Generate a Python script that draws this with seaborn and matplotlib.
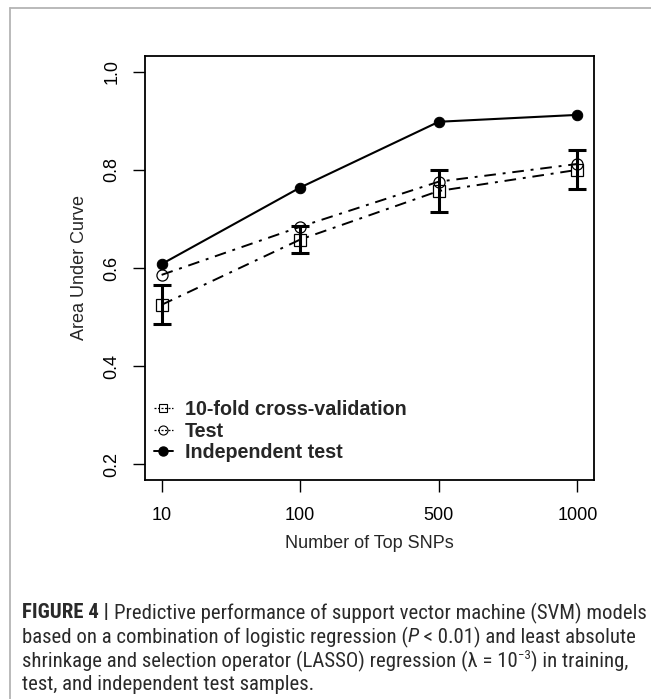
import numpy as np
import pandas as pd
import matplotlib
matplotlib.use("Agg")
import matplotlib.pyplot as plt
import seaborn as sns
from matplotlib import font_manager
from matplotlib.lines import Line2D

# ---------------- data ----------------
snp_labels = ["10", "100", "500", "1000"]
cv_auc = [0.525, 0.658, 0.757, 0.800]
cv_err = [0.040, 0.028, 0.043, 0.040]
test_auc = [0.586, 0.684, 0.776, 0.812]
indep_auc = [0.608, 0.764, 0.898, 0.912]
series_names = ["10-fold cross-validation", "Test", "Independent test"]
yticks = [0.2, 0.4, 0.6, 0.8, 1.0]

sns.set_style("white")
plt.rcParams["font.family"] = ["Liberation Sans", "DejaVu Sans"]

W, H = 651, 699
fig = plt.figure(figsize=(W / 100, H / 100), dpi=100)
fig.patch.set_facecolor("white")

L, R, T, B = 145, 594, 56, 480
ax = fig.add_axes([L / W, 1 - B / H, (R - L) / W, (B - T) / H])

pos = np.arange(len(snp_labels))
df = pd.DataFrame({"pos": pos, "cv": cv_auc, "test": test_auc, "indep": indep_auc})

dashdot = (0, (6, 3.5, 1.5, 3.5))
sns.lineplot(data=df, x="pos", y="cv", ax=ax, color="black", lw=1.4,
             linestyle=dashdot, marker="s", markersize=8, markerfacecolor="none",
             markeredgecolor="black", markeredgewidth=0.9)
sns.lineplot(data=df, x="pos", y="test", ax=ax, color="black", lw=1.4,
             linestyle=dashdot, marker="o", markersize=8, markerfacecolor="none",
             markeredgecolor="black", markeredgewidth=0.9)
sns.lineplot(data=df, x="pos", y="indep", ax=ax, color="black", lw=1.5,
             linestyle="-", marker="o", markersize=7.5, markerfacecolor="black",
             markeredgecolor="black")
ax.errorbar(pos, cv_auc, yerr=cv_err, fmt="none", ecolor="black",
            elinewidth=2.2, capsize=6.5, capthick=2.2, zorder=5)

ax.set_xlim(-0.12, 3.12)
ax.set_ylim(0.168, 1.032)
ax.set_xticks(pos)
ax.set_xticklabels(snp_labels)
ax.set_yticks(yticks)
ax.set_yticklabels([f"{v:.1f}" for v in yticks])
ax.tick_params(axis="both", direction="out", length=8.5, width=1.0,
               color="black", labelsize=13, labelcolor="black",
               left=True, bottom=True)
ax.tick_params(axis="x", pad=11)
ax.tick_params(axis="y", pad=9)
for t in ax.get_yticklabels():
    t.set_rotation(90)
    t.set_va("center")
    t.set_ha("right")
for s in ax.spines.values():
    s.set_visible(True)
    s.set_color("black")
    s.set_linewidth(1.3)

ax.set_xlabel("Number of Top SNPs", fontsize=13)
ax.set_ylabel("Area Under Curve", fontsize=13)
ax.xaxis.set_label_coords(0.5, -(543 - B) / (B - T))
ax.xaxis.label.set_va("center")
ax.yaxis.set_label_coords(-(L - 79) / (R - L), 0.5)
ax.yaxis.label.set_va("center")

small_dash = (0, (1.6, 1.2))
handles = [
    Line2D([], [], color="black", lw=0.9, linestyle=small_dash, marker="s",
           markersize=6, markerfacecolor="none", markeredgecolor="black",
           markeredgewidth=0.8),
    Line2D([], [], color="black", lw=0.9, linestyle=small_dash, marker="o",
           markersize=6.5, markerfacecolor="none", markeredgecolor="black",
           markeredgewidth=0.8),
    Line2D([], [], color="black", lw=1.4, linestyle="-", marker="o",
           markersize=6.5, markerfacecolor="black", markeredgecolor="black"),
]
leg = ax.legend(handles, series_names, loc="upper left",
                bbox_to_anchor=((154 - L) / (R - L), (B - 400) / (B - T)),
                frameon=False, borderpad=0, borderaxespad=0,
                handlelength=0.95, handletextpad=0.6, labelspacing=0.13,
                prop={"weight": "bold", "size": 14.2})

# ---------------- outer frame ----------------
frame_c = "#b4b4b4"
fig.add_artist(Line2D([9.7 / W, 1.0], [1 - 8.3 / H, 1 - 8.3 / H],
                      transform=fig.transFigure, color=frame_c, lw=1.3))
fig.add_artist(Line2D([9.7 / W, 9.7 / W], [1 - 8.3 / H, 0.0],
                      transform=fig.transFigure, color=frame_c, lw=1.3))

# ---------------- caption ----------------
def pick_font(cands):
    for c in cands:
        try:
            font_manager.findfont(c, fallback_to_default=False)
            return c
        except Exception:
            pass
    return "DejaVu Sans"

cap_font = pick_font(["Roboto Condensed", "Liberation Sans Narrow", "Roboto"])
cap_color = "#2a2a2a"
fig.canvas.draw()
renderer = fig.canvas.get_renderer()

lines = [
    [("FIGURE 4 | ", {"weight": "bold"}),
     ("Predictive performance of support vector machine (SVM) models", {})],
    [("based on a combination of logistic regression (", {}), ("P", {"style": "italic"}),
     (" < 0.01) and least absolute", {})],
    [("shrinkage and selection operator (LASSO) regression (λ = 10", {}),
     ("−3", {"sup": True}), (") in training,", {})],
    [("test, and independent test samples.", {})],
]


def draw_line(x0, yc, runs, size, draw=True):
    x = x0
    for txt, props in runs:
        p = dict(props)
        sup = p.pop("sup", False)
        if sup:
            fs = size * 0.62
            ypix = yc - size * 0.28 * 100 / 72
        else:
            fs = size
            ypix = yc
        t = fig.text(x / W, 1 - ypix / H, txt, fontsize=fs,
                     family=[cap_font, "DejaVu Sans"],
                     color=cap_color, va="center", ha="left", **p)
        bb = t.get_window_extent(renderer)
        x += bb.width
        if not draw:
            t.remove()
    return x - x0

# calibrate font size so first line spans 22 -> 643 px
test_size = 10.0
w10 = draw_line(22, 613, lines[0], test_size, draw=False)
cap_size = test_size * (643 - 22) / w10

ys = [613, 637, 661, 685]
for yc, runs in zip(ys, lines):
    draw_line(22, yc, runs, cap_size)

fig.savefig("out.png", dpi=100, facecolor="white")
